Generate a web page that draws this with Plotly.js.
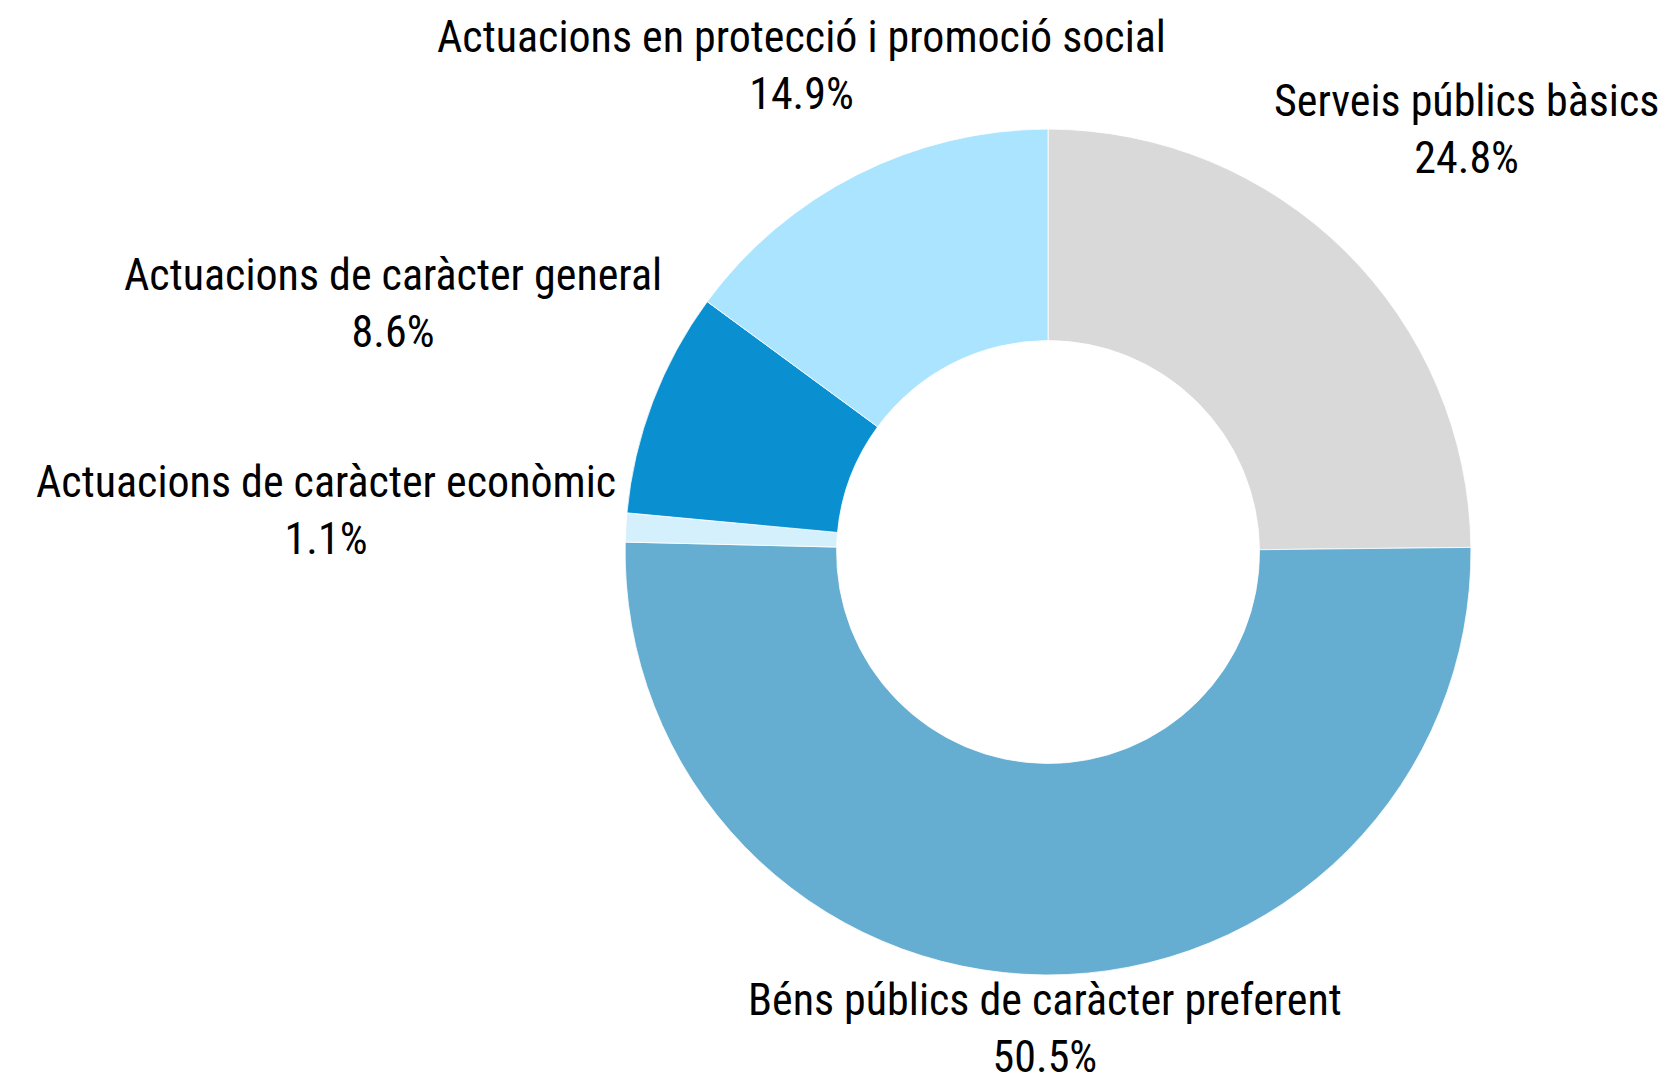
<!DOCTYPE html>
<html><head><meta charset="utf-8">
<script src="https://cdn.plot.ly/plotly-3.0.1.min.js"></script>
<style>body{margin:0}</style>
</head><body>
<div id="chart" style="width:1667px;height:1076px"></div>
<script>
const categories = [
  "Serveis públics bàsics",
  "Béns públics de caràcter preferent",
  "Actuacions de caràcter econòmic",
  "Actuacions de caràcter general",
  "Actuacions en protecció i promoció social"
];
const shares = [24.8, 50.5, 1.1, 8.6, 14.9];
const colors = ["#d9d9d9", "#66aed1", "#d4f0fc", "#0a90d0", "#aae4fe"];

const W = 1667, H = 1076;
const FONT = {family: "Roboto Condensed, Roboto, Open Sans, sans-serif", size: 44, color: "#000000"};
const LABEL_GAP = 1.017;   // nearest edge of a label sits just outside the ring
const TRIM_TOP = 10;       // part of the text box above the glyphs ignored when placing labels
const TRIM_BOTTOM = 0;

const trace = {
  type: "pie",
  labels: categories,
  values: shares,
  hole: 0.5,
  sort: false,
  direction: "clockwise",
  rotation: 0,
  marker: {colors: colors, line: {color: "#ffffff", width: 0.8}},
  textinfo: "none",
  hoverinfo: "label+value",
  domain: {x: [0.375, 0.8824], y: [0.0939, 0.880]}
};
const annotations = categories.map((c, i) => ({
  text: c + "<br>" + shares[i].toFixed(1) + "%",
  xref: "paper", yref: "paper", x: 0.5, y: 0.5,
  xanchor: "center", yanchor: "middle", align: "center",
  showarrow: false, font: FONT
}));
const layout = {
  width: W, height: H,
  margin: {l: 0, r: 0, t: 0, b: 0},
  showlegend: false,
  paper_bgcolor: "#ffffff",
  font: FONT,
  annotations: annotations
};
function gap1d(a, b) { return (a <= 0 && b >= 0) ? 0 : Math.min(Math.abs(a), Math.abs(b)); }
const gd = document.getElementById("chart");
Plotly.newPlot(gd, [trace], layout, {displayModeBar: false, staticPlot: true}).then(() => {
  const cd0 = gd.calcdata[0][0];
  const cx = cd0.cx, cy = cd0.cy, r = cd0.r;
  const total = shares.reduce((a, b) => a + b, 0);
  const boxes = Array.from(gd.querySelectorAll("g.annotation rect.bg")).map(el => el.getBoundingClientRect());
  let cum = 0;
  const upd = {};
  shares.forEach((v, i) => {
    const th = 2 * Math.PI * (cum + v / 2) / total;
    cum += v;
    const ux = Math.sin(th), uy = -Math.cos(th);
    const w2 = boxes[i].width / 2, h2 = boxes[i].height / 2;
    const target = r * LABEL_GAP;
    let lo = 0, hi = 3000;
    for (let k = 0; k < 60; k++) {
      const t = (lo + hi) / 2;
      const bx = t * ux, by = t * uy;
      const dx = gap1d(bx - w2, bx + w2);
      const dy = gap1d(by - (h2 - TRIM_TOP), by + (h2 - TRIM_BOTTOM));
      if (Math.hypot(dx, dy) < target) lo = t; else hi = t;
    }
    const px = cx + lo * ux, py = cy + lo * uy;
    upd["annotations[" + i + "].x"] = px / W;
    upd["annotations[" + i + "].y"] = 1 - py / H;
  });
  return Plotly.relayout(gd, upd);
});
</script>
</body></html>
